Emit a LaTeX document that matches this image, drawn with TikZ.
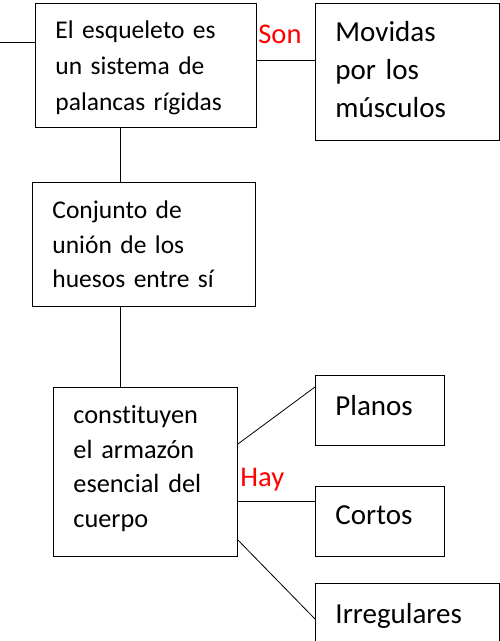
\documentclass[tikz,border=0pt]{standalone}
\usepackage{fontspec}
\setmainfont[Ligatures=NoCommon]{Carlito}
\usepackage{xcolor}
\tikzset{
    caja/.style={draw, line width=0.9pt, anchor=north west, align=left,
        inner xsep=20pt, inner ysep=0pt},
    letraMedia/.style={font=\fontsize{25.5}{35.8}\selectfont},
    letraGrande/.style={font=\fontsize{29}{38}\selectfont},
    enlace/.style={text=red, font=\fontsize{28.5}{30}\selectfont, inner sep=0pt}
}
% #1 style, #2 #3 top left, #4 width, #5 height, #6 name, #7 text
\newcommand{\drawCaja}[7]{
    \node[caja, #1, minimum width=#4pt, minimum height=#5pt, text width=#4pt-40pt] (#6) at (#2,#3) {#7}
}
\begin{document}
\begin{tikzpicture}[x=1pt, y=-1pt, line width=0.8pt]
            \clip (0,0) rectangle (500,641);
            \drawCaja{letraMedia, text height=0pt, text depth=53pt}{35}{3}{221}{124}{esq}{El esqueleto es\\un sistema de\\palancas rígidas};
            \drawCaja{letraGrande, text height=0pt, text depth=61pt}{315}{3}{184}{137}{musc}{Movidas\\por los\\músculos};
            \drawCaja{font=\fontsize{25.5}{34.2}\selectfont, text height=0pt, text depth=51pt}{32}{182}{223}{124}{conj}{Conjunto de\\unión de los\\huesos entre sí};
            \drawCaja{font=\fontsize{26.3}{34.7}\selectfont, text height=0pt, text depth=97pt}{53}{387}{184}{169}{const}{constituyen\\el armazón\\esencial del\\cuerpo};
            \drawCaja{letraGrande, text height=10pt, text depth=0pt}{315}{375}{129}{70}{planos}{Planos};
            \drawCaja{letraGrande, text height=6pt, text depth=0pt}{315}{486}{129}{70}{cortos}{Cortos};
            \drawCaja{letraGrande, text height=1pt, text depth=0pt}{315}{583}{184}{80}{irreg}{Irregulares};

            \node[enlace, anchor=base west] (son) at (258,43) {Son};
            \node[enlace, anchor=base west] (hay) at (240,486) {Hay};

            \coordinate (stub) at (0,42);
            \coordinate (sonY) at (0,60);
            \coordinate (trunk) at (120,0);
            \draw (stub) -- (stub -| esq.west);
            \draw (esq.east |- sonY) -- (musc.west |- sonY);
            \draw (trunk |- esq.south) -- (trunk |- conj.north);
            \draw (trunk |- conj.south) -- (trunk |- const.north);
            \draw (const.east |- 0,444) -- (planos.west |- 0,387);
            \draw (const.east |- 0,501) -- (cortos.west |- 0,501);
            \draw (const.east |- 0,540) -- (irreg.west |- 0,619);
        \end{tikzpicture}
\end{document}
